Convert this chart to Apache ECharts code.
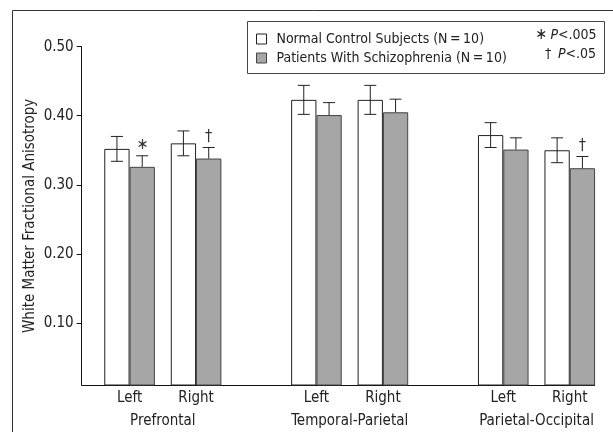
<!DOCTYPE html>
<html>
<head>
<meta charset="utf-8">
<script src="https://cdn.jsdelivr.net/npm/echarts@6/dist/echarts.min.js"></script>
<style>
  html, body { margin: 0; padding: 0; background: #fff; }
  #chart { width: 613px; height: 432px; }
</style>
</head>
<body>
<div id="chart"></div>
<script>
// Fractional anisotropy by region and hemisphere, controls vs patients (mean ± SD)
const regions = ['Prefrontal', 'Temporal-Parietal', 'Parietal-Occipital'];
const sides = ['Left', 'Right'];
const controlMean = [0.352, 0.360, 0.423, 0.423, 0.372, 0.350];
const controlErr  = [0.018, 0.018, 0.021, 0.021, 0.018, 0.018];
const patientMean = [0.326, 0.338, 0.401, 0.405, 0.351, 0.324];
const patientErr  = [0.016, 0.016, 0.018, 0.019, 0.017, 0.017];
const patientMarks = ['\u2217', '\u2020', '', '', '', '\u2020'];
const yTicks = [0.10, 0.20, 0.30, 0.40, 0.50];
const controlName = 'Normal Control Subjects (N\u2009=\u200910)';
const patientName = 'Patients With Schizophrenia (N\u2009=\u200910)';

// Layout of the pairs along a numeric x axis: pairs within a region are one unit
// apart, regions are separated by a wider gap.
const FIRST = 0.72, REGION_STRIDE = 2.81, X_MAX = 7.715;
const pairX = [];
regions.forEach((r, g) => sides.forEach((s, k) => pairX.push(FIRST + g * REGION_STRIDE + k)));
const regionX = regions.map((r, g) => FIRST + g * REGION_STRIDE + 0.5);

const BAR_W = 25.3;
const FONT = "'DejaVu Sans Condensed', 'Liberation Sans Narrow', sans-serif";
const FS = 15;

function nearestIndex(arr, v) {
  let best = 0;
  arr.forEach((a, i) => { if (Math.abs(a - v) < Math.abs(arr[best] - v)) best = i; });
  return best;
}

const chart = echarts.init(document.getElementById('chart'), null, { renderer: 'canvas' });

const errData = [];
pairX.forEach((x, i) => {
  errData.push([x, controlMean[i], controlErr[i], 0, i]);
  errData.push([x, patientMean[i], patientErr[i], 1, i]);
});

chart.setOption({
  animation: false,
  textStyle: { fontFamily: FONT },
  grid: { left: 81.7, right: 18.3, top: 46.7, bottom: 47 },
  legend: {
    orient: 'vertical',
    left: 251, top: 27,
    itemWidth: 10, itemHeight: 10, itemGap: 5,
    icon: 'rect',
    selectedMode: false,
    itemStyle: { borderWidth: 1 },
    textStyle: { fontFamily: FONT, fontSize: 14, color: '#222', padding: [0, 0, 0, 5] },
    data: [controlName, patientName]
  },
  xAxis: [
    {
      type: 'value', min: 0, max: X_MAX,
      axisLine: { lineStyle: { color: '#111', width: 1 } },
      axisTick: { show: false },
      splitLine: { show: false },
      axisLabel: {
        customValues: pairX,
        formatter: v => sides[nearestIndex(pairX, v) % 2],
        fontSize: FS, color: '#222', margin: 6, fontFamily: FONT
      }
    },
    {
      type: 'value', min: 0, max: X_MAX, position: 'bottom', offset: 23,
      axisLine: { show: false },
      axisTick: { show: false },
      splitLine: { show: false },
      axisLabel: {
        customValues: regionX,
        formatter: v => regions[nearestIndex(regionX, v)],
        fontSize: FS, color: '#222', margin: 6, fontFamily: FONT
      }
    }
  ],
  yAxis: {
    type: 'value', min: 0.01, max: 0.5,
    name: 'White Matter Fractional Anisotropy',
    nameLocation: 'middle', nameGap: 44, nameMoveOverlap: false,
    nameTextStyle: { fontSize: FS, color: '#222', fontFamily: FONT },
    axisLine: { show: true, lineStyle: { color: '#111', width: 1 } },
    axisTick: { show: true, customValues: yTicks, length: 5, lineStyle: { color: '#111' } },
    splitLine: { show: false },
    axisLabel: {
      customValues: yTicks,
      formatter: v => v.toFixed(2),
      fontSize: FS, color: '#222', margin: 8, fontFamily: FONT
    }
  },
  series: [
    {
      name: controlName, type: 'bar', barWidth: BAR_W, barGap: '0%',
      itemStyle: { color: '#ffffff', borderColor: '#222', borderWidth: 1 },
      data: pairX.map((x, i) => [x, controlMean[i]]),
      z: 2
    },
    {
      name: patientName, type: 'bar', barWidth: BAR_W, barGap: '0%',
      itemStyle: { color: '#a6a6a6', borderColor: '#444', borderWidth: 1 },
      data: pairX.map((x, i) => [x, patientMean[i]]),
      z: 2
    },
    {
      type: 'custom', z: 5, silent: true,
      data: errData,
      renderItem: (params, api) => {
        const x = api.value(0), m = api.value(1), e = api.value(2);
        const grp = api.value(3), idx = api.value(4);
        const dx = grp === 0 ? -BAR_W / 2 : BAR_W / 2;
        const top = api.coord([x, m + e]);
        const mid = api.coord([x, m]);
        const bot = api.coord([x, m - e]);
        const cx = top[0] + dx;
        const cap = 6;
        const style = { stroke: '#222', lineWidth: 1 };
        const children = [];
        const lowY = grp === 0 ? bot[1] : mid[1];
        children.push({ type: 'line', shape: { x1: cx, y1: top[1], x2: cx, y2: lowY }, style });
        children.push({ type: 'line', shape: { x1: cx - cap, y1: top[1], x2: cx + cap, y2: top[1] }, style });
        if (grp === 0) {
          children.push({ type: 'line', shape: { x1: cx - cap, y1: bot[1], x2: cx + cap, y2: bot[1] }, style });
        } else if (patientMarks[idx]) {
          children.push({
            type: 'text',
            style: {
              text: patientMarks[idx], x: cx, y: top[1] - 3,
              align: 'center', verticalAlign: 'bottom',
              font: '16px ' + FONT, fill: '#333'
            }
          });
        }
        return { type: 'group', children };
      }
    }
  ],
  graphic: [
    {
      type: 'rect', left: 10, top: 8,
      shape: { width: 640, height: 460 },
      style: { fill: null, stroke: '#333', lineWidth: 1 }, z: 0
    },
    {
      type: 'rect', left: 245, top: 19,
      shape: { width: 357, height: 52 },
      style: { fill: null, stroke: '#444', lineWidth: 1 }, z: 0
    },
    {
      type: 'text', left: 535, top: 27, z: 10,
      style: {
        text: '{s|\u2217} {i|P}{n|<.005}',
        rich: {
          s: { fontSize: 16, fontFamily: FONT, fill: '#222' },
          i: { fontSize: 14, fontFamily: FONT, fontStyle: 'italic', fill: '#222' },
          n: { fontSize: 14, fontFamily: FONT, fill: '#222' }
        }
      }
    },
    {
      type: 'text', left: 545, top: 47, z: 10,
      style: {
        text: '{s|\u2020}  {i|P}{n|<.05}',
        rich: {
          s: { fontSize: 14, fontFamily: FONT, fill: '#222' },
          i: { fontSize: 14, fontFamily: FONT, fontStyle: 'italic', fill: '#222' },
          n: { fontSize: 14, fontFamily: FONT, fill: '#222' }
        }
      }
    }
  ]
});
</script>
</body>
</html>
